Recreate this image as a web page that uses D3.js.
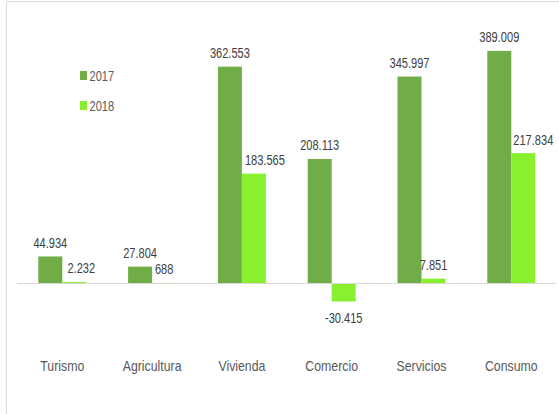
<!DOCTYPE html>
<html>
<head>
<meta charset="utf-8">
<script src="https://cdn.jsdelivr.net/npm/d3@7"></script>
<style>
  html, body { margin: 0; padding: 0; background: #ffffff; }
  svg { display: block; }
  text { font-family: "Liberation Sans", Arial, sans-serif; }
</style>
</head>
<body>
<div id="chart"></div>
<script>
// Sector figures for two years
const categories = ["Turismo", "Agricultura", "Vivienda", "Comercio", "Servicios", "Consumo"];
const series = ["2017", "2018"];
const values2017 = [44934, 27804, 362553, 208113, 345997, 389009];
const values2018 = [2232, 688, 183565, -30415, 7851, 217834];
const labels2017 = ["44.934", "27.804", "362.553", "208.113", "345.997", "389.009"];
const labels2018 = ["2.232", "688", "183.565", "-30.415", "7.851", "217.834"];
// small horizontal nudges for labels that would collide with neighbours
const labelShift2018 = [7, 0, 11, 0, 0, 10];

const colors = { "2017": "#70ad47", "2018": "#88f02f" };

// condensed look for the text: regular face squeezed horizontally
const numScale = 0.79, catScale = 0.88;

const W = 559, H = 414;
const svg = d3.select("#chart").append("svg")
  .attr("width", W).attr("height", H);

// outer frame (only the top and left edges fall inside the view)
svg.append("line").attr("x1", 6.5).attr("x2", W).attr("y1", 1.5).attr("y2", 1.5)
  .attr("stroke", "#d9d9d9").attr("stroke-width", 1);
svg.append("line").attr("x1", 6.5).attr("x2", 6.5).attr("y1", 1.5).attr("y2", H)
  .attr("stroke", "#d9d9d9").attr("stroke-width", 1);

const x0 = d3.scaleBand().domain(categories).range([17.4, 556.2]).paddingInner(0).paddingOuter(0);
const groupW = 48;
const x1 = d3.scaleBand().domain(series).range([0, groupW]);

const y = d3.scaleLinear().domain([-100000, 400000]).range([343.05, 44.3]);

const rows = categories.map((c, i) => ({
  cat: c,
  vals: [
    { s: "2017", v: values2017[i], label: labels2017[i], dx: 0 },
    { s: "2018", v: values2018[i], label: labels2018[i], dx: labelShift2018[i] }
  ]
}));

const groups = svg.selectAll("g.cat").data(rows).enter().append("g")
  .attr("class", "cat")
  .attr("transform", d => `translate(${x0(d.cat) + x0.bandwidth() / 2 - groupW / 2},0)`);

groups.selectAll("rect").data(d => d.vals).enter().append("rect")
  .attr("x", d => x1(d.s))
  .attr("width", x1.bandwidth())
  .attr("y", d => y(Math.max(0, d.v)))
  .attr("height", d => Math.abs(y(d.v) - y(0)))
  .attr("fill", d => colors[d.s]);

// value labels
groups.selectAll("text.val").data(d => d.vals).enter().append("text")
  .attr("class", "val")
  .attr("transform", d => {
    const tx = x1(d.s) + x1.bandwidth() / 2 + d.dx;
    const ty = d.v >= 0 ? y(d.v) - 8.5 : y(d.v) + 21.5;
    return `translate(${tx},${ty}) scale(${numScale},1)`;
  })
  .attr("text-anchor", "middle")
  .attr("font-size", "14px")
  .attr("fill", "#404040")
  .text(d => d.label);

// zero line
svg.append("line")
  .attr("x1", x0.range()[0]).attr("x2", x0.range()[1])
  .attr("y1", Math.round(y(0)) + 0.5).attr("y2", Math.round(y(0)) + 0.5)
  .attr("stroke", "#d9d9d9").attr("stroke-width", 1);

// category axis labels
const xAxis = d3.axisBottom(x0).tickSize(0).tickPadding(0);
const ax = svg.append("g").attr("transform", "translate(0,371)").call(xAxis);
ax.select(".domain").remove();
ax.selectAll("text")
  .attr("font-family", "'Liberation Sans', Arial, sans-serif")
  .attr("font-size", "14px")
  .attr("fill", "#595959")
  .attr("y", 0)
  .attr("dy", 0)
  .attr("transform", `scale(${catScale},1)`);

// legend
const legend = svg.append("g").attr("transform", "translate(80,70)");
series.forEach((s, i) => {
  const g = legend.append("g").attr("transform", `translate(0,${i * 30})`);
  g.append("rect").attr("x", 0).attr("y", 1).attr("width", 7).attr("height", 9).attr("fill", colors[s]);
  g.append("text")
    .attr("transform", `translate(9.5,10.8) scale(${numScale},1)`)
    .attr("font-size", "14px").attr("fill", "#595959").text(s);
});
</script>
</body>
</html>
